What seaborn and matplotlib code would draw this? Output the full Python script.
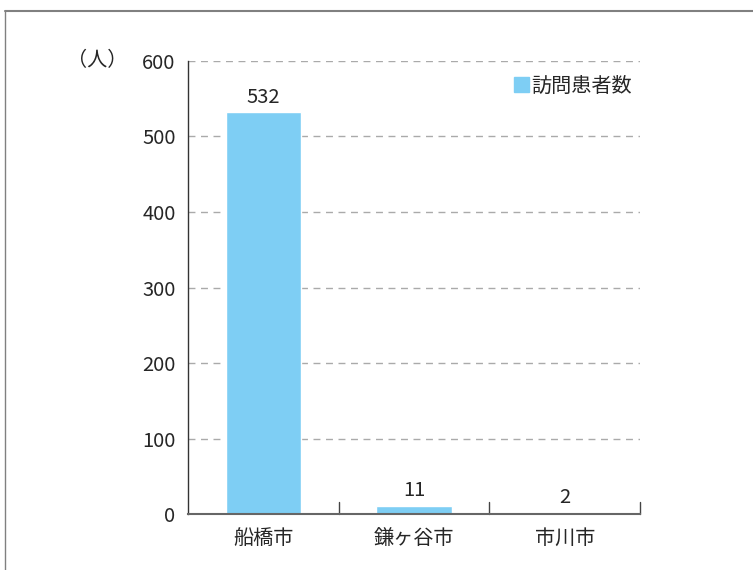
import pandas as pd
import matplotlib.pyplot as plt
import seaborn as sns
from matplotlib.lines import Line2D
from matplotlib.patches import Patch

# Data
cities = ["船橋市", "鎌ヶ谷市", "市川市"]
patients = [532, 11, 2]
yticks = [0, 100, 200, 300, 400, 500, 600]
series_name = "訪問患者数"

df = pd.DataFrame({"city": cities, "count": patients})

sns.set_theme(style="white")
plt.rcParams['font.family'] = ['Noto Sans CJK JP', 'DejaVu Sans']

bar_color = "#7ECEF4"
fs = 14.5

fig = plt.figure(figsize=(7.53, 5.70), dpi=100)
ax = fig.add_axes([0.2497, 0.0982, 0.6003, 0.7948])

sns.barplot(data=df, x="city", y="count", color=bar_color, width=0.5,
            saturation=1, ax=ax)

ax.set_ylim(0, 600)
ax.set_xlim(-0.5, 2.5)
ax.set_yticks(yticks)
ax.set_yticklabels([str(v) for v in yticks], fontsize=fs)
ax.tick_params(axis="y", length=0, pad=9)
ax.tick_params(axis="x", length=0, pad=10, labelsize=fs)
ax.set_xlabel("")
ax.set_ylabel("")

# dashed grid
for v in yticks[1:]:
    ax.axhline(v, color="#aaaaaa", lw=1, ls=(0, (5, 4)), zorder=0)

for s in ["top", "right"]:
    ax.spines[s].set_visible(False)
ax.spines["left"].set_color("#333333")
ax.spines["left"].set_linewidth(1)
ax.spines["bottom"].set_color("#666666")
ax.spines["bottom"].set_linewidth(1.5)

# category separator ticks
for xb in [0.5, 1.5, 2.5]:
    ax.plot([xb, xb], [0, 16], color="#444444", lw=1, clip_on=False)

# value labels
for i, v in enumerate(patients):
    ax.text(i, v + 6, str(v), ha="center", va="bottom", fontsize=fs)

# unit label
ax.text(-0.135, 600, "（人）", transform=ax.get_yaxis_transform(),
        ha="right", va="center", fontsize=fs)

# legend
ax.legend(handles=[Patch(color=bar_color, label=series_name)],
          loc="upper right", bbox_to_anchor=(1.0, 0.985), frameon=False,
          fontsize=fs, handlelength=0.75, handleheight=0.75, handletextpad=0.1,
          borderaxespad=0)

# outer frame (top and left only)
fig.add_artist(Line2D([5 / 753, 1], [1 - 11 / 570, 1 - 11 / 570],
                      color="#808080", lw=1.5, transform=fig.transFigure))
fig.add_artist(Line2D([5 / 753, 5 / 753], [0, 1 - 11 / 570],
                      color="#808080", lw=1.0, transform=fig.transFigure))

plt.savefig("out.png", dpi=100)
plt.close()
